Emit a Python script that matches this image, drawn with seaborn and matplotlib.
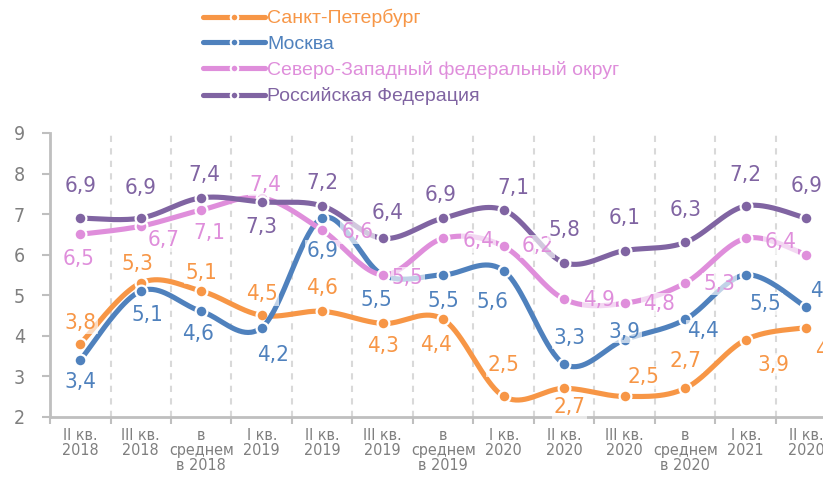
import numpy as np
import pandas as pd
import matplotlib
matplotlib.use("Agg")
import matplotlib.pyplot as plt
import seaborn as sns
from matplotlib.lines import Line2D

# ---------------- data ----------------
categories = ["II кв.\n2018", "III кв.\n2018", "в\nсреднем\nв 2018", "I кв.\n2019",
              "II кв.\n2019", "III кв.\n2019", "в\nсреднем\nв 2019", "I кв.\n2020",
              "II кв.\n2020", "III кв.\n2020", "в\nсреднем\nв 2020", "I кв.\n2021",
              "II кв.\n2020"]
series_names = ["Санкт-Петербург", "Москва",
                "Северо-Западный федеральный округ", "Российская Федерация"]
spb = [3.8, 5.3, 5.1, 4.5, 4.6, 4.3, 4.4, 2.5, 2.7, 2.5, 2.7, 3.9, 4.2]
msk = [3.4, 5.1, 4.6, 4.2, 6.9, 5.5, 5.5, 5.6, 3.3, 3.9, 4.4, 5.5, 4.7]
nwfd = [6.5, 6.7, 7.1, 7.4, 6.6, 5.5, 6.4, 6.2, 4.9, 4.8, 5.3, 6.4, 6.0]
rf = [6.9, 6.9, 7.4, 7.3, 7.2, 6.4, 6.9, 7.1, 5.8, 6.1, 6.3, 7.2, 6.9]
y_ticks = [2, 3, 4, 5, 6, 7, 8, 9]

colors = ["#F79646", "#4F81BD", "#DF8EDB", "#8064A2"]

# label offsets in pixels (dx, dy up)
offsets = [
    [(0, 21), (-3, 19), (0, 18), (0, 21), (0, 23), (0, -23), (-7, -26), (0, 31),
     (5, -19), (19, 19), (0, 27), (28, -25), (25, -23)],
    [(0, -22), (7, -24), (-3, -23), (11, -27), (0, -33), (-6, -25), (0, -26),
     (-11, -31), (5, 26), (0, 8), (18, -12), (20, -29), (20, 16)],
    [(-2, -25), (23, -14), (8, -23), (4, 13), (35, -2), (25, -3), (35, -3),
     (34, 0), (35, -1), (34, -1), (34, -1), (35, -4), (35, 0)],
    [(0, 32), (0, 30), (3, 23), (0, -25), (0, 23), (5, 25), (-3, 23), (10, 22),
     (0, 33), (0, 33), (0, 32), (0, 31), (0, 32)],
]

sns.set_theme(style="white")
plt.rcParams["font.family"] = ["Liberation Sans", "DejaVu Sans"]
NARROW = dict(family=["DejaVu Sans"], fontstretch="condensed")


def smooth(yv, n=40):
    yv = np.asarray(yv, float)
    P = np.column_stack([np.arange(len(yv), dtype=float), yv])
    out = []
    m = len(P)
    for i in range(m - 1):
        p0 = P[i - 1] if i > 0 else P[i]
        p1, p2 = P[i], P[i + 1]
        p3 = P[i + 2] if i + 2 < m else P[i + 1]
        c1 = p1 + (p2 - p0) / 6.0
        c2 = p2 - (p3 - p1) / 6.0
        t = np.linspace(0, 1, n, endpoint=(i == m - 2))[:, None]
        b = (1 - t) ** 3 * p1 + 3 * (1 - t) ** 2 * t * c1 + 3 * (1 - t) * t ** 2 * c2 + t ** 3 * p2
        out.append(b)
    return np.vstack(out)


fig = plt.figure(figsize=(8.23, 4.80), dpi=100)
W, H = 823, 480
ax = fig.add_axes([50 / W, (H - 416.7) / H, 786.5 / W, 283.7 / H])
ax.set_facecolor("none")

all_series = [spb, msk, nwfd, rf]
for k, (name, vals, col) in enumerate(zip(series_names, all_series, colors)):
    curve = smooth(vals)
    dfc = pd.DataFrame({"x": curve[:, 0], "y": curve[:, 1]})
    sns.lineplot(data=dfc, x="x", y="y", ax=ax, color=col, lw=3.7, sort=False,
                 estimator=None, zorder=2 + k, solid_capstyle="round")
    dfp = pd.DataFrame({"x": np.arange(len(vals)), "y": vals})
    sns.scatterplot(data=dfp, x="x", y="y", ax=ax, color=col, s=72,
                    edgecolor="white", linewidth=1.6, zorder=2.5 + k)

# data labels
for k, (vals, col) in enumerate(zip(all_series, colors)):
    for i, v in enumerate(vals):
        dx, dy = offsets[k][i]
        ax.annotate(f"{v:.1f}".replace(".", ","), (i, v), xytext=(dx, dy),
                    textcoords="offset pixels", ha="center", va="center",
                    color=col, fontsize=16, zorder=10, annotation_clip=False,
                    bbox=dict(boxstyle="square,pad=0.06", fc="white", ec="none", alpha=0.65),
                    **NARROW)

ax.set_xlim(-0.5, 12.5)
ax.set_ylim(2, 9)
ax.set_xlabel("")
ax.set_ylabel("")

# y axis
ax.set_yticks(y_ticks)
ax.set_yticklabels([str(t) for t in y_ticks], fontsize=14, color="#7F7F7F", **NARROW)
ax.tick_params(axis="y", length=6, width=1.5, color="#BFBFBF", pad=12, left=True)

# x axis: boundaries as major ticks, labels on minor
ax.set_xticks(np.arange(-0.5, 12.6, 1.0))
ax.set_xticklabels([])
ax.set_xticks(np.arange(len(categories)), minor=True)
ax.set_xticklabels(categories, minor=True, fontsize=11.5,
                   color="#7F7F7F", linespacing=1.0, **NARROW)
ax.tick_params(axis="x", which="major", length=5, width=1.5, color="#BFBFBF", bottom=True)
ax.tick_params(axis="x", which="minor", length=0, pad=8)

for xb in np.arange(0.5, 12.5, 1.0):
    ax.axvline(xb, color="#D9D9D9", lw=1.5, ls=(0, (3, 3)), zorder=1)

for s in ["top", "right"]:
    ax.spines[s].set_visible(False)
for s in ["left", "bottom"]:
    ax.spines[s].set_color("#BFBFBF")
    ax.spines[s].set_linewidth(2)
ax.grid(False)

# legend
handles = [Line2D([0], [0], color=c, lw=3.7, marker="o", markersize=5.5,
                  markeredgecolor="white", markeredgewidth=1.5) for c in colors]
leg = fig.legend(handles, series_names, loc="upper left",
                 bbox_to_anchor=(203 / W, 1 - 9 / H), frameon=False,
                 fontsize=14, handlelength=3.2, handletextpad=0.1,
                 labelspacing=0.42, borderpad=0, borderaxespad=0)
for t, c in zip(leg.get_texts(), colors):
    t.set_color(c)

fig.savefig("out.png", dpi=100)
